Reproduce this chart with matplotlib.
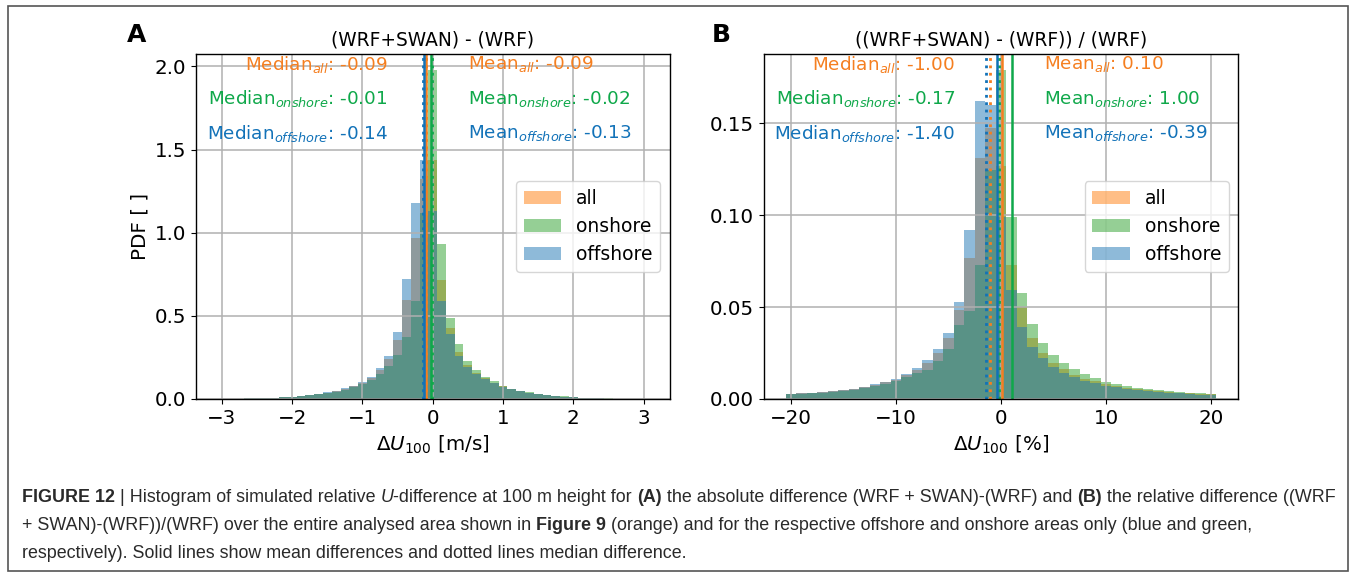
import numpy as np
import matplotlib
matplotlib.use("Agg")
import matplotlib.pyplot as plt
from matplotlib.patches import Rectangle

# ---- histogram data (PDF per bin) ----
# panel A: absolute difference, 49 bins of 0.125 m/s centred on 0
edges_a = np.linspace(-3.0625, 3.0625, 50)
all_a = [0.002, 0.002, 0.003, 0.004, 0.005, 0.007, 0.009, 0.012, 0.015, 0.019,
         0.024, 0.031, 0.039, 0.048, 0.061, 0.076, 0.096, 0.127, 0.172, 0.238,
         0.354, 0.595, 0.968, 1.322, 1.435, 0.714, 0.426, 0.285, 0.204, 0.159,
         0.125, 0.099, 0.077, 0.059, 0.047, 0.037, 0.029, 0.023, 0.018, 0.014,
         0.011, 0.008, 0.006, 0.004, 0.003, 0.002, 0.002, 0.001, 0.001]
onshore_a = [0.002, 0.002, 0.003, 0.004, 0.005, 0.006, 0.008, 0.011, 0.014, 0.018,
             0.023, 0.029, 0.036, 0.045, 0.056, 0.070, 0.090, 0.115, 0.150, 0.200,
             0.265, 0.370, 0.590, 1.120, 1.976, 0.935, 0.490, 0.330, 0.230, 0.174,
             0.134, 0.106, 0.080, 0.062, 0.050, 0.040, 0.032, 0.025, 0.020, 0.016,
             0.012, 0.009, 0.007, 0.005, 0.004, 0.003, 0.002, 0.002, 0.001]
offshore_a = [0.002, 0.002, 0.003, 0.004, 0.005, 0.007, 0.009, 0.012, 0.015, 0.020,
              0.025, 0.032, 0.040, 0.050, 0.064, 0.080, 0.100, 0.134, 0.184, 0.260,
              0.404, 0.721, 1.181, 1.435, 1.130, 0.590, 0.390, 0.260, 0.190, 0.150,
              0.120, 0.095, 0.075, 0.058, 0.046, 0.036, 0.028, 0.022, 0.017, 0.013,
              0.010, 0.008, 0.006, 0.004, 0.003, 0.002, 0.002, 0.001, 0.001]

# panel B: relative difference, 41 bins of 1 % centred on 0
edges_b = np.linspace(-20.5, 20.5, 42)
all_b = [0.0026, 0.0030, 0.0033, 0.0037, 0.0042, 0.0048, 0.0054, 0.0065, 0.0077, 0.0090,
         0.0104, 0.0128, 0.0158, 0.0194, 0.0248, 0.0330, 0.0484, 0.0766, 0.1314, 0.1476,
         0.1270,
         0.0728, 0.0502, 0.0330, 0.0252, 0.0197, 0.0161, 0.0130, 0.0110, 0.0096, 0.0083,
         0.0070, 0.0061, 0.0054, 0.0048, 0.0042, 0.0037, 0.0033, 0.0030, 0.0026, 0.0026]
onshore_b = [0.0025, 0.0028, 0.0031, 0.0035, 0.0040, 0.0045, 0.0051, 0.0060, 0.0071, 0.0083,
             0.0096, 0.0117, 0.0141, 0.0160, 0.0207, 0.0274, 0.0403, 0.0480, 0.0730, 0.1245,
             0.1788,
             0.0990, 0.0578, 0.0406, 0.0306, 0.0239, 0.0197, 0.0161, 0.0134, 0.0112, 0.0094,
             0.0082, 0.0071, 0.0062, 0.0056, 0.0049, 0.0043, 0.0038, 0.0034, 0.0030, 0.0029]
offshore_b = [0.0027, 0.0031, 0.0034, 0.0038, 0.0043, 0.0049, 0.0056, 0.0067, 0.0080, 0.0094,
              0.0109, 0.0134, 0.0167, 0.0212, 0.0270, 0.0360, 0.0529, 0.0918, 0.1620, 0.1600,
              0.0990,
              0.0592, 0.0393, 0.0284, 0.0221, 0.0176, 0.0143, 0.0118, 0.0098, 0.0085, 0.0071,
              0.0063, 0.0056, 0.0049, 0.0043, 0.0038, 0.0034, 0.0031, 0.0027, 0.0024, 0.0024]

groups = ["all", "onshore", "offshore"]
colors = ["tab:orange", "tab:green", "tab:blue"]
# stat lines and labels are a touch more saturated than the bars
line_colors = ["#f57f20", "#0fa84a", "#1272b8"]

median_a = [-0.09, -0.01, -0.14]
mean_a = [-0.09, -0.02, -0.13]
median_b = [-1.00, -0.17, -1.40]
mean_b = [0.10, 1.00, -0.39]

xticks_a = [-3, -2, -1, 0, 1, 2, 3]
yticks_a = [0.0, 0.5, 1.0, 1.5, 2.0]
xticks_b = [-20, -10, 0, 10, 20]
yticks_b = [0.00, 0.05, 0.10, 0.15]

W, H = 1356, 573
fig = plt.figure(figsize=(W / 100, H / 100), dpi=100)

ax_a = fig.add_axes([196 / W, 174 / H, 473.5 / W, 345 / H])
ax_b = fig.add_axes([764 / W, 174 / H, 474 / W, 345 / H])


def panel(ax, edges, series, medians, means, title, xlabel, xticks, yticks, yfmt,
          x_med=0.405, x_mean=0.575):
    centers = 0.5 * (edges[:-1] + edges[1:])
    for name, c, h in zip(groups, colors, series):
        ax.hist(centers, bins=edges, weights=h, color=c, alpha=0.5, label=name)
    for c, m in zip(line_colors, medians):
        ax.axvline(m, color=c, linestyle=':', linewidth=2)
    for c, m in zip(line_colors, means):
        ax.axvline(m, color=c, linestyle='-', linewidth=1.8)

    ax.set_xticks(xticks)
    ax.set_yticks(yticks)
    ax.set_yticklabels([yfmt.format(v) for v in yticks])
    ax.grid(True, color='#b0b0b0', linewidth=1.1)
    ax.tick_params(labelsize=14.3)
    ax.set_title(title, fontsize=13.4)
    ax.set_xlabel(xlabel, fontsize=14.3)
    for sp in ax.spines.values():
        sp.set_linewidth(1.0)

    subs = ["all", "onshore", "offshore"]
    ys = [0.971, 0.870, 0.771]
    for c, s, y, md, mn in zip(line_colors, subs, ys, medians, means):
        ax.text(x_med, y, "Median$_{%s}$: %.2f" % (s, md), transform=ax.transAxes,
                ha='right', va='center', color=c, fontsize=13.2)
        ax.text(x_mean, y, "Mean$_{%s}$: %.2f" % (s, mn), transform=ax.transAxes,
                ha='left', va='center', color=c, fontsize=13.2)

    ax.legend(loc='center right', fontsize=13.5)


panel(ax_a, edges_a, [all_a, onshore_a, offshore_a], median_a, mean_a,
      "(WRF+SWAN) - (WRF)", r"$\Delta U_{100}$ [m/s]", xticks_a, yticks_a, "{:.1f}",
      x_med=0.405, x_mean=0.575)
panel(ax_b, edges_b, [all_b, onshore_b, offshore_b], median_b, mean_b,
      "((WRF+SWAN) - (WRF)) / (WRF)", r"$\Delta U_{100}$ [%]", xticks_b, yticks_b, "{:.2f}",
      x_med=0.403, x_mean=0.591)
ax_a.set_ylabel("PDF [ ]", fontsize=14.3)

fig.text(127 / W, 1 - 35 / H, "A", fontsize=18, weight='bold', va='center')
fig.text(712 / W, 1 - 35 / H, "B", fontsize=18, weight='bold', va='center')

# outer frame
fig.add_artist(Rectangle((8 / W, 2 / H), 1340 / W, 565 / H, transform=fig.transFigure,
                         fill=False, edgecolor='#555555', linewidth=1.2))

# caption, written chunk by chunk so bold / italic runs sit inline
cap_font = ['Liberation Sans Narrow', 'Liberation Sans', 'DejaVu Sans']
cap_size = 12.9
renderer = fig.canvas.get_renderer()


def chunk_width(s, weight, style):
    t = fig.text(0, 0, "|" + s + "|", family=cap_font, fontsize=cap_size,
                 weight=weight, style=style)
    w = t.get_window_extent(renderer).width
    t.remove()
    t = fig.text(0, 0, "||", family=cap_font, fontsize=cap_size, weight=weight, style=style)
    w -= t.get_window_extent(renderer).width
    t.remove()
    return w


def rich_line(x, y, chunks):
    for s, weight, style in chunks:
        fig.text(x / W, 1 - y / H, s, family=cap_font, fontsize=cap_size,
                 weight=weight, style=style, va='center', color='#2a2a2a')
        x += chunk_width(s, weight, style)


N, B, I = 'normal', 'bold', 'italic'
rich_line(22, 497, [("FIGURE 12", B, N), (" | Histogram of simulated relative ", N, N),
                    ("U", N, I), ("-difference at 100 m height for ", N, N), ("(A)", B, N),
                    (" the absolute difference (WRF + SWAN)-(WRF) and ", N, N), ("(B)", B, N),
                    (" the relative difference ((WRF", N, N)])
rich_line(22, 525, [("+ SWAN)-(WRF))/(WRF) over the entire analysed area shown in ", N, N),
                    ("Figure 9", B, N),
                    (" (orange) and for the respective offshore and onshore areas only (blue and green,", N, N)])
rich_line(22, 553, [("respectively). Solid lines show mean differences and dotted lines median difference.", N, N)])

fig.savefig("out.png", dpi=100)
